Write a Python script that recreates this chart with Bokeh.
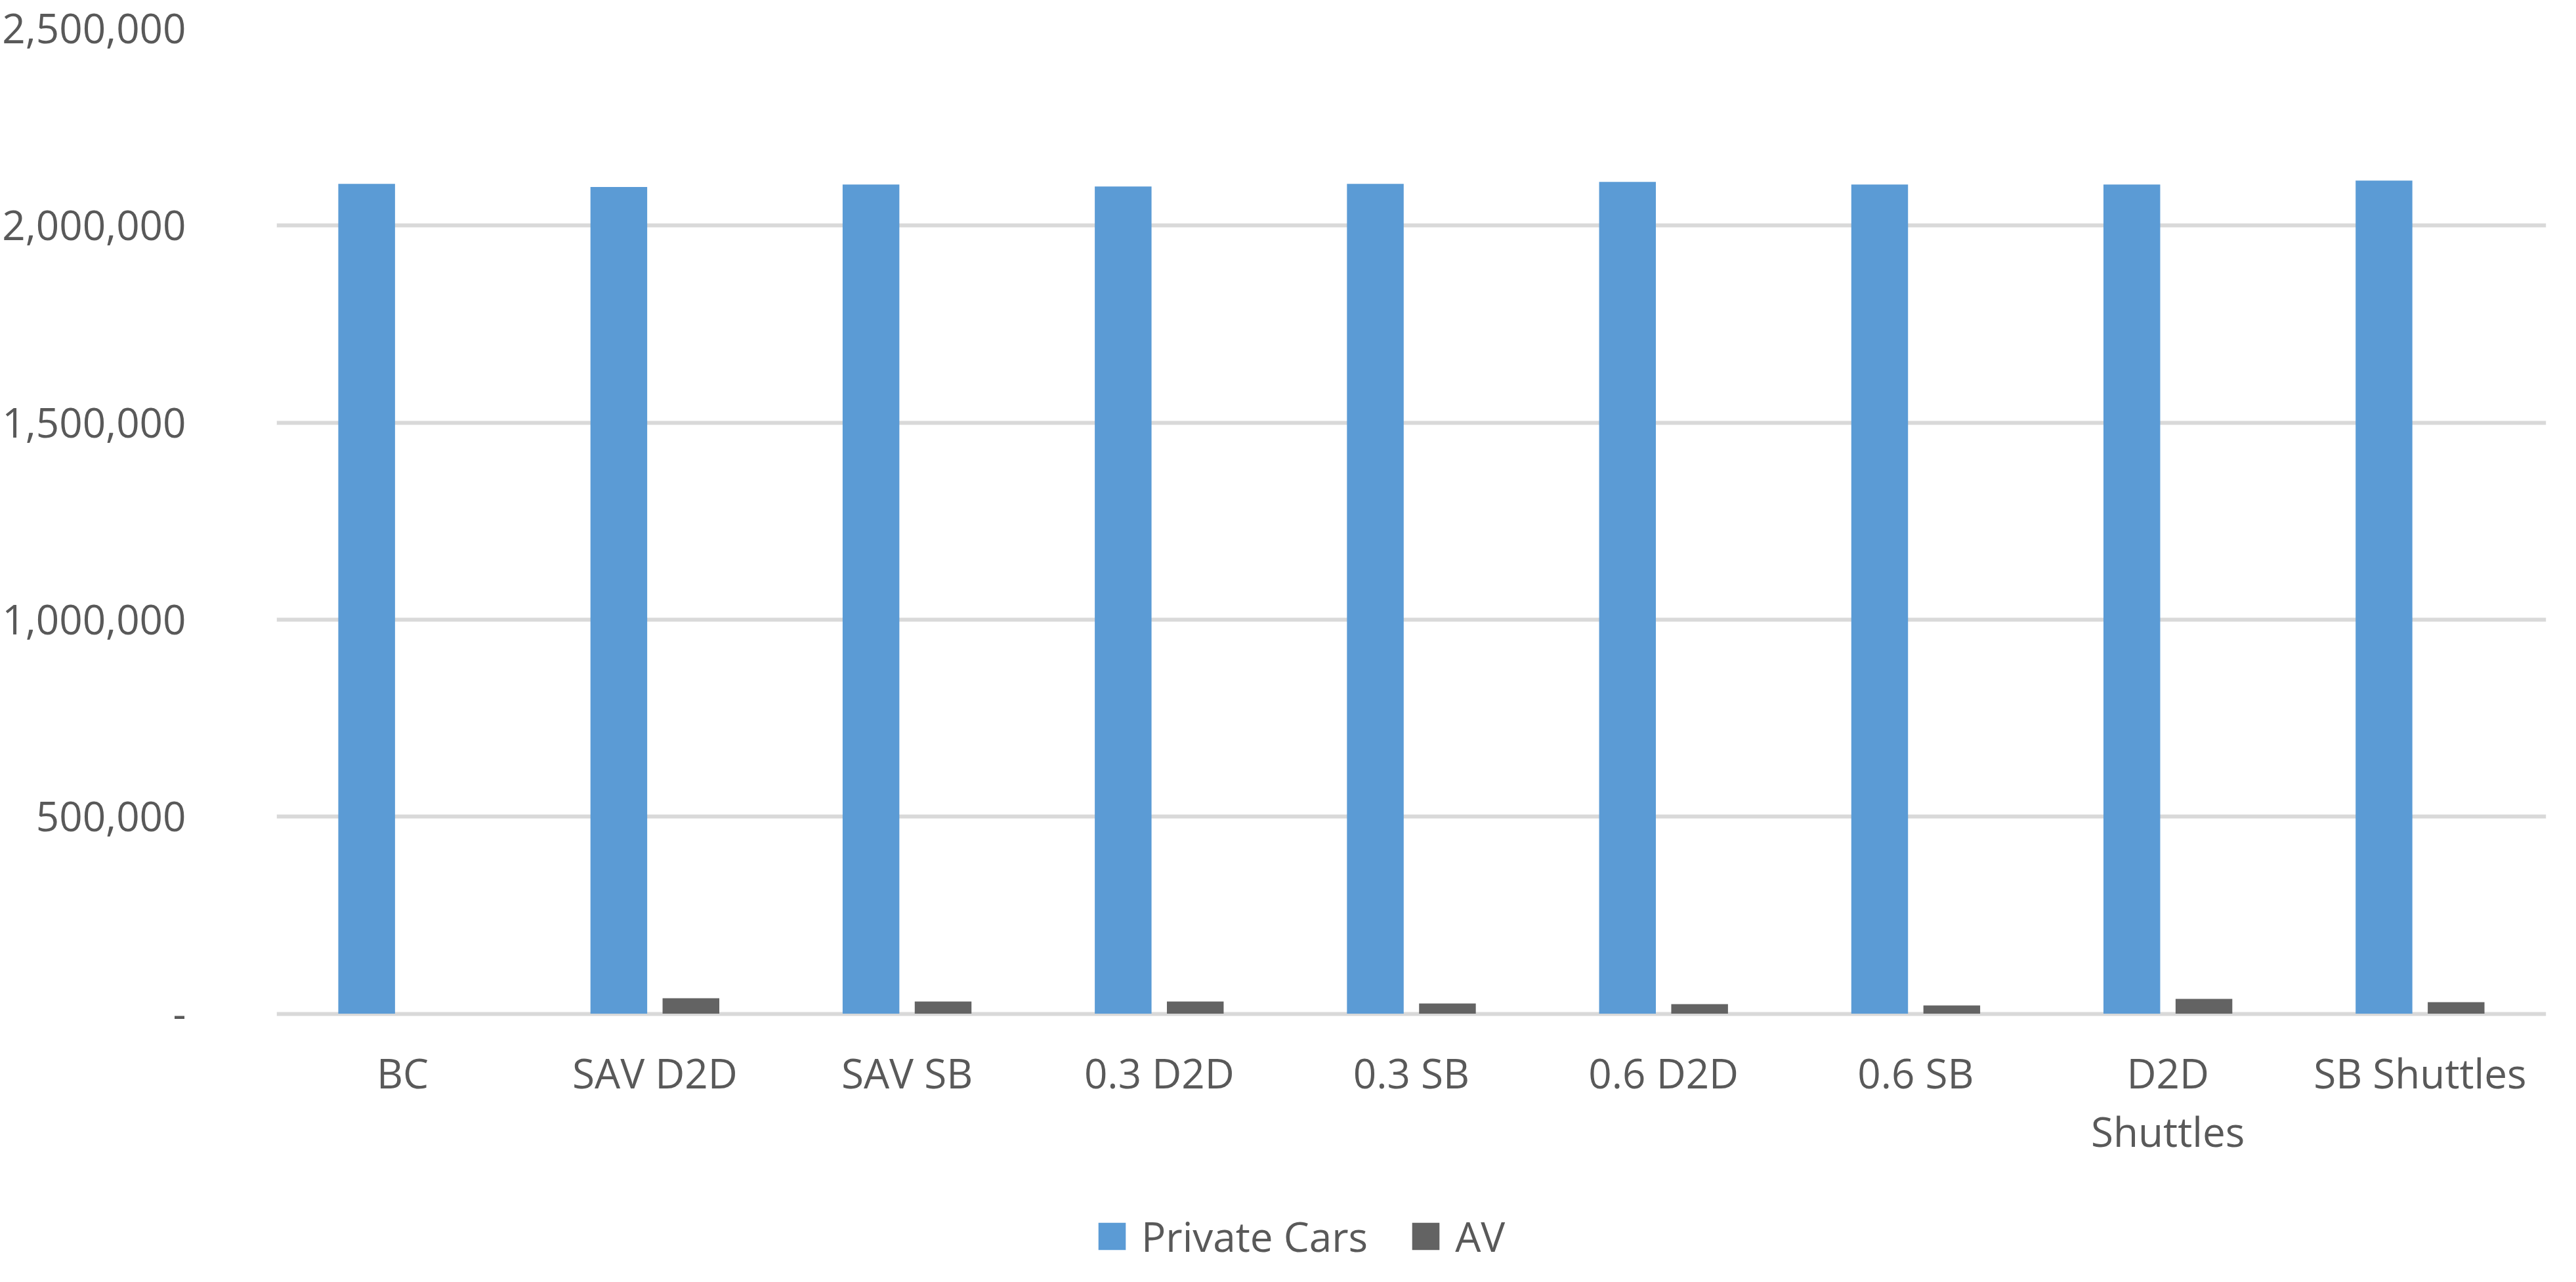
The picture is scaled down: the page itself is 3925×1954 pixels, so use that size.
from bokeh.plotting import figure
from bokeh.models import ColumnDataSource, FactorRange, Range1d, FixedTicker, Legend, LegendItem
from bokeh.transform import dodge
from bokeh.core.properties import value
from bokeh.embed import file_html
from bokeh.resources import INLINE

categories = ["BC", "SAV D2D", "SAV SB", "0.3 D2D", "0.3 SB", "0.6 D2D", "0.6 SB", "D2D Shuttles", "SB Shuttles"]
x_labels = ["BC", "SAV D2D", "SAV SB", "0.3 D2D", "0.3 SB", "0.6 D2D", "0.6 SB", "D2D\nShuttles", "SB Shuttles"]
private_cars = [2106000, 2098000, 2104000, 2099000, 2106000, 2111000, 2104000, 2104000, 2114000]
av = [0, 39000, 31000, 31000, 26000, 24000, 21000, 37500, 29000]
y_ticks = [0, 500000, 1000000, 1500000, 2000000, 2500000]
y_tick_labels = ["-", "500,000", "1,000,000", "1,500,000", "2,000,000", "2,500,000"]

FONT = "Open Sans"
TEXT = "#595959"
FS = "62px"

W, H = 3909, 1938
TOP, LEFT, RIGHT = 43, 404, 30
ZERO_FROM_TOP = 1501.5  # pixels between 2.5M line and zero line
frame_h = H - TOP
y_max = 2500000
y_min = -y_max * (frame_h - ZERO_FROM_TOP) / ZERO_FROM_TOP

src = ColumnDataSource(dict(cat=categories, pc=private_cars, av=av, lab=x_labels))

p = figure(
    x_range=FactorRange(factors=categories, range_padding=0),
    y_range=Range1d(y_min, y_max),
    width=W, height=H,
    output_backend="svg", toolbar_location=None,
    min_border_left=LEFT, min_border_right=RIGHT, min_border_top=TOP, min_border_bottom=0,
)
p.outline_line_color = None
p.background_fill_color = "white"
p.border_fill_color = "white"

r1 = p.vbar(x=dodge("cat", -0.143, range=p.x_range), top="pc", bottom=0, width=0.225, source=src,
            fill_color="#5B9BD5", line_color=None)
r2 = p.vbar(x=dodge("cat", 0.143, range=p.x_range), top="av", bottom=0, width=0.225, source=src,
            fill_color="#636363", line_color=None)

p.text(x="cat", y=0, text="lab", source=src, y_offset=48,
       text_font=value(FONT), text_font_size=FS, text_color=TEXT,
       text_align="center", text_baseline="top", text_line_height=1.06)

p.yaxis.ticker = FixedTicker(ticks=y_ticks)
p.yaxis.major_label_overrides = {t: l for t, l in zip(y_ticks, y_tick_labels)}
p.ygrid.ticker = FixedTicker(ticks=y_ticks)
p.ygrid.grid_line_color = "#D9D9D9"
p.ygrid.grid_line_width = 6
p.xgrid.grid_line_color = None
p.xaxis.visible = False

p.yaxis.axis_line_color = None
p.yaxis.major_tick_line_color = None
p.yaxis.minor_tick_line_color = None
p.yaxis.major_label_text_font = FONT
p.yaxis.major_label_text_font_size = FS
p.yaxis.major_label_text_color = TEXT
p.yaxis.major_label_standoff = 132

legend = Legend(
    items=[LegendItem(label="Private Cars", renderers=[r1]), LegendItem(label="AV", renderers=[r2])],
    location=(1247, 12), orientation="horizontal",
    padding=0, margin=0, spacing=62,
    glyph_width=52, glyph_height=52, label_standoff=19, label_height=52,
    label_text_font=FONT, label_text_font_size=FS, label_text_color=TEXT,
    border_line_color=None, background_fill_alpha=0,
)
p.add_layout(legend)

open("out.html", "w").write(file_html(p, INLINE))
